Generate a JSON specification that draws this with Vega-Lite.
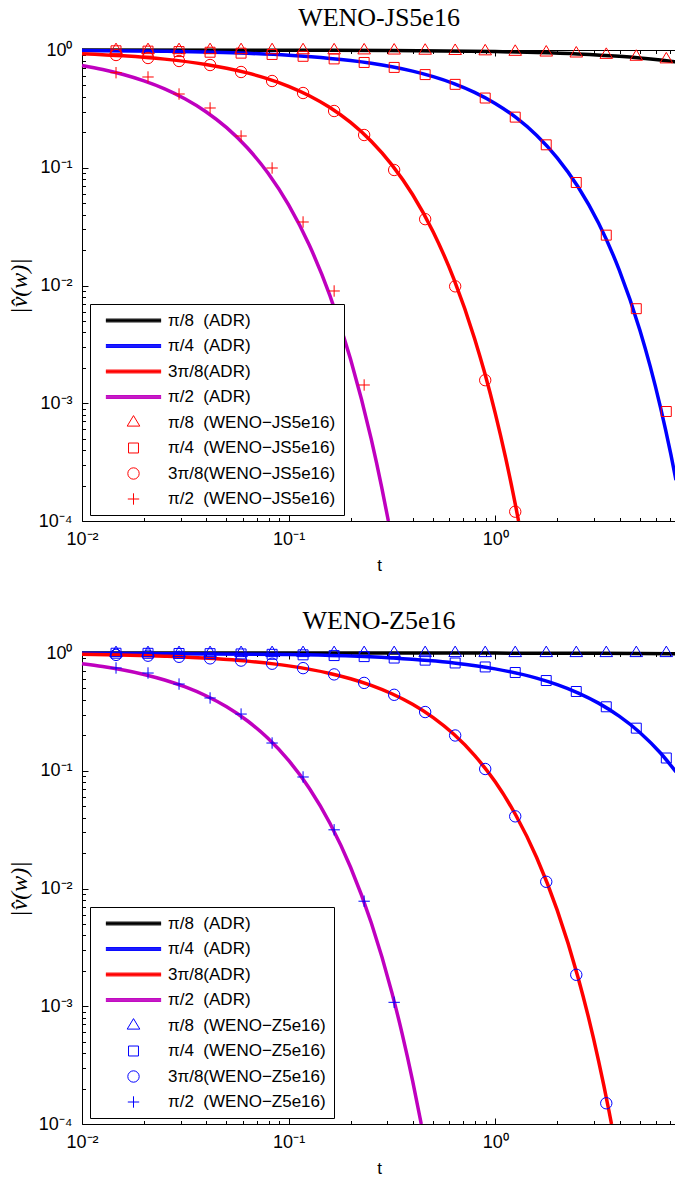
{
"$schema":"https://vega.github.io/schema/vega-lite/v6.json",
"padding":{"left":7,"top":5,"right":0,"bottom":0},
"spacing":35,
"config":{
 "view":{"stroke":null},
 "axis":{"grid":false,"domainColor":"#000","domainWidth":1,"tickColor":"#000","tickWidth":1,"labelColor":"#000","titleColor":"#000","labelFont":"Liberation Sans","labelFontSize":18,"titleFont":"Liberation Sans","titleFontSize":17,"titleFontWeight":"normal","labelFlush":false,"labelOverlap":false,"labelBound":false},
 "legend":{"orient":"none","labelFont":"Liberation Sans","labelFontSize":17,"labelColor":"#000","padding":8,"rowPadding":7.5,"strokeColor":"#000","strokeWidth":1,"fillColor":"#fff","cornerRadius":0,"symbolSize":144,"symbolOffset":27,"labelOffset":26,"labelLimit":0,"symbolStrokeWidth":1}
},
"datasets":{
 "linesJS":[
{"t":0.01,"v":0.9997,"s":"a1"},{"t":0.1,"v":0.9969,"s":"a1"},{"t":0.3162,"v":0.9902,"s":"a1"},{"t":1,"v":0.9695,"s":"a1"},{"t":1.585,"v":0.9521,"s":"a1"},{"t":2.512,"v":0.9251,"s":"a1"},{"t":3.981,"v":0.8839,"s":"a1"},{"t":5.012,"v":0.8561,"s":"a1"},{"t":6.31,"v":0.8223,"s":"a1"},{"t":7.5,"v":0.7926,"s":"a1"},
{"t":0.01,"v":0.9897,"s":"a2"},{"t":0.02512,"v":0.9744,"s":"a2"},{"t":0.0631,"v":0.9369,"s":"a2"},{"t":0.1,"v":0.9018,"s":"a2"},{"t":0.1585,"v":0.8487,"s":"a2"},{"t":0.1995,"v":0.8134,"s":"a2"},{"t":0.2512,"v":0.7709,"s":"a2"},{"t":0.3162,"v":0.7205,"s":"a2"},{"t":0.3981,"v":0.6616,"s":"a2"},{"t":0.5012,"v":0.5941,"s":"a2"},{"t":0.631,"v":0.5187,"s":"a2"},{"t":0.7943,"v":0.437,"s":"a2"},{"t":1,"v":0.3518,"s":"a2"},{"t":1.2589,"v":0.2674,"s":"a2"},{"t":1.5849,"v":0.1888,"s":"a2"},{"t":1.9953,"v":0.1215,"s":"a2"},{"t":2.5119,"v":0.06931,"s":"a2"},{"t":3.1623,"v":0.03389,"s":"a2"},{"t":3.9811,"v":0.01358,"s":"a2"},{"t":5.0119,"v":0.004196,"s":"a2"},{"t":5.6234,"v":0.002066,"s":"a2"},{"t":6.3096,"v":0.0009233,"s":"a2"},{"t":7.0795,"v":0.0003691,"s":"a2"},{"t":7.5,"v":0.0002224,"s":"a2"},
{"t":0.01,"v":0.9315,"s":"a3"},{"t":0.01585,"v":0.8936,"s":"a3"},{"t":0.02512,"v":0.8367,"s":"a3"},{"t":0.03981,"v":0.7538,"s":"a3"},{"t":0.05012,"v":0.7006,"s":"a3"},{"t":0.0631,"v":0.6389,"s":"a3"},{"t":0.07943,"v":0.569,"s":"a3"},{"t":0.1,"v":0.4916,"s":"a3"},{"t":0.1259,"v":0.4091,"s":"a3"},{"t":0.1585,"v":0.3246,"s":"a3"},{"t":0.1995,"v":0.2425,"s":"a3"},{"t":0.2512,"v":0.1681,"s":"a3"},{"t":0.3162,"v":0.1059,"s":"a3"},{"t":0.3981,"v":0.05922,"s":"a3"},{"t":0.5012,"v":0.02848,"s":"a3"},{"t":0.631,"v":0.01134,"s":"a3"},{"t":0.7943,"v":0.003554,"s":"a3"},{"t":0.8913,"v":0.001786,"s":"a3"},{"t":1,"v":0.0008251,"s":"a3"},{"t":1.122,"v":0.000347,"s":"a3"},{"t":1.2589,"v":0.0001313,"s":"a3"},{"t":1.2972,"v":0.0001,"s":"a3"},
{"t":0.01,"v":0.7386,"s":"a4"},{"t":0.01259,"v":0.6829,"s":"a4"},{"t":0.01585,"v":0.6187,"s":"a4"},{"t":0.01995,"v":0.5463,"s":"a4"},{"t":0.02512,"v":0.4672,"s":"a4"},{"t":0.03162,"v":0.3835,"s":"a4"},{"t":0.03981,"v":0.2993,"s":"a4"},{"t":0.05012,"v":0.219,"s":"a4"},{"t":0.0631,"v":0.1478,"s":"a4"},{"t":0.07943,"v":0.0901,"s":"a4"},{"t":0.1,"v":0.04832,"s":"a4"},{"t":0.1259,"v":0.02205,"s":"a4"},{"t":0.1585,"v":0.008211,"s":"a4"},{"t":0.1995,"v":0.002368,"s":"a4"},{"t":0.2512,"v":0.000495,"s":"a4"},{"t":0.2818,"v":0.0001958,"s":"a4"},{"t":0.304,"v":0.0001,"s":"a4"}
 ],
 "ptsJS":[
{"t":0.01461,"v":0.9996,"s":"m1"},{"t":0.02087,"v":0.9994,"s":"m1"},{"t":0.02949,"v":0.9992,"s":"m1"},{"t":0.04168,"v":0.9989,"s":"m1"},{"t":0.05888,"v":0.9984,"s":"m1"},{"t":0.0832,"v":0.9978,"s":"m1"},{"t":0.1175,"v":0.9968,"s":"m1"},{"t":0.1661,"v":0.9955,"s":"m1"},{"t":0.2321,"v":0.9938,"s":"m1"},{"t":0.3243,"v":0.9913,"s":"m1"},{"t":0.4581,"v":0.9877,"s":"m1"},{"t":0.64,"v":0.9829,"s":"m1"},{"t":0.8946,"v":0.9761,"s":"m1"},{"t":1.25,"v":0.9668,"s":"m1"},{"t":1.766,"v":0.9534,"s":"m1"},{"t":2.468,"v":0.9355,"s":"m1"},{"t":3.448,"v":0.9111,"s":"m1"},{"t":4.818,"v":0.878,"s":"m1"},{"t":6.732,"v":0.8338,"s":"m1"},
{"t":0.01461,"v":0.9848,"s":"m2"},{"t":0.02087,"v":0.9783,"s":"m2"},{"t":0.02949,"v":0.9695,"s":"m2"},{"t":0.04168,"v":0.9572,"s":"m2"},{"t":0.05888,"v":0.9401,"s":"m2"},{"t":0.0832,"v":0.9164,"s":"m2"},{"t":0.1175,"v":0.8839,"s":"m2"},{"t":0.1661,"v":0.84,"s":"m2"},{"t":0.2321,"v":0.7837,"s":"m2"},{"t":0.3243,"v":0.7114,"s":"m2"},{"t":0.4581,"v":0.6182,"s":"m2"},{"t":0.64,"v":0.5107,"s":"m2"},{"t":0.8946,"v":0.3909,"s":"m2"},{"t":1.25,"v":0.2691,"s":"m2"},{"t":1.766,"v":0.1566,"s":"m2"},{"t":2.468,"v":0.07494,"s":"m2"},{"t":3.448,"v":0.02677,"s":"m2"},{"t":4.818,"v":0.006355,"s":"m2"},{"t":6.732,"v":0.000851,"s":"m2"},
{"t":0.01461,"v":0.9069,"s":"m3"},{"t":0.02087,"v":0.8552,"s":"m3"},{"t":0.02949,"v":0.8065,"s":"m3"},{"t":0.04168,"v":0.7455,"s":"m3"},{"t":0.05888,"v":0.6504,"s":"m3"},{"t":0.0832,"v":0.5454,"s":"m3"},{"t":0.1175,"v":0.4313,"s":"m3"},{"t":0.1661,"v":0.3033,"s":"m3"},{"t":0.2321,"v":0.1897,"s":"m3"},{"t":0.3243,"v":0.09569,"s":"m3"},{"t":0.4581,"v":0.0366,"s":"m3"},{"t":0.64,"v":0.00984,"s":"m3"},{"t":0.8946,"v":0.00157,"s":"m3"},{"t":1.25,"v":0.00012,"s":"m3"},
{"t":0.01461,"v":0.6415,"s":"m4"},{"t":0.02087,"v":0.5898,"s":"m4"},{"t":0.02949,"v":0.4229,"s":"m4"},{"t":0.04168,"v":0.3217,"s":"m4"},{"t":0.05888,"v":0.186,"s":"m4"},{"t":0.0832,"v":0.09951,"s":"m4"},{"t":0.1175,"v":0.03462,"s":"m4"},{"t":0.1661,"v":0.008981,"s":"m4"},{"t":0.2321,"v":0.001429,"s":"m4"}
 ],
 "linesZ":[
{"t":0.01,"v":0.99998,"s":"a1"},{"t":0.1,"v":0.9998,"s":"a1"},{"t":1,"v":0.998,"s":"a1"},{"t":3.162,"v":0.9937,"s":"a1"},{"t":7.5,"v":0.9851,"s":"a1"},
{"t":0.01,"v":0.9969,"s":"a2"},{"t":0.1,"v":0.9695,"s":"a2"},{"t":0.3162,"v":0.9066,"s":"a2"},{"t":0.631,"v":0.8223,"s":"a2"},{"t":1,"v":0.7334,"s":"a2"},{"t":1.585,"v":0.6118,"s":"a2"},{"t":1.995,"v":0.5387,"s":"a2"},{"t":2.512,"v":0.459,"s":"a2"},{"t":3.162,"v":0.3752,"s":"a2"},{"t":3.981,"v":0.2911,"s":"a2"},{"t":5.012,"v":0.2115,"s":"a2"},{"t":6.31,"v":0.1414,"s":"a2"},{"t":7.5,"v":0.09778,"s":"a2"},
{"t":0.01,"v":0.9751,"s":"a3"},{"t":0.02512,"v":0.9387,"s":"a3"},{"t":0.0631,"v":0.853,"s":"a3"},{"t":0.1,"v":0.7772,"s":"a3"},{"t":0.1585,"v":0.6707,"s":"a3"},{"t":0.1995,"v":0.6048,"s":"a3"},{"t":0.2512,"v":0.531,"s":"a3"},{"t":0.3162,"v":0.4507,"s":"a3"},{"t":0.3981,"v":0.3667,"s":"a3"},{"t":0.5012,"v":0.2828,"s":"a3"},{"t":0.631,"v":0.2039,"s":"a3"},{"t":0.7943,"v":0.1351,"s":"a3"},{"t":1,"v":0.08046,"s":"a3"},{"t":1.2589,"v":0.0419,"s":"a3"},{"t":1.5849,"v":0.01843,"s":"a3"},{"t":1.9953,"v":0.006551,"s":"a3"},{"t":2.5119,"v":0.001782,"s":"a3"},{"t":2.8184,"v":0.0008232,"s":"a3"},{"t":3.1623,"v":0.000346,"s":"a3"},{"t":3.5481,"v":0.0001309,"s":"a3"},{"t":3.6549,"v":0.0001,"s":"a3"},
{"t":0.01,"v":0.8106,"s":"a4"},{"t":0.01259,"v":0.7677,"s":"a4"},{"t":0.01585,"v":0.7169,"s":"a4"},{"t":0.01995,"v":0.6577,"s":"a4"},{"t":0.02512,"v":0.5901,"s":"a4"},{"t":0.03162,"v":0.5148,"s":"a4"},{"t":0.03981,"v":0.4334,"s":"a4"},{"t":0.05012,"v":0.3491,"s":"a4"},{"t":0.0631,"v":0.2658,"s":"a4"},{"t":0.07943,"v":0.1886,"s":"a4"},{"t":0.1,"v":0.1225,"s":"a4"},{"t":0.1259,"v":0.07109,"s":"a4"},{"t":0.1585,"v":0.03586,"s":"a4"},{"t":0.1995,"v":0.01515,"s":"a4"},{"t":0.2512,"v":0.005118,"s":"a4"},{"t":0.3162,"v":0.001306,"s":"a4"},{"t":0.3548,"v":0.0005808,"s":"a4"},{"t":0.3981,"v":0.000234,"s":"a4"},{"t":0.4386,"v":0.0001,"s":"a4"}
 ],
 "ptsZ":[
{"t":0.01461,"v":1,"s":"m1"},{"t":0.02087,"v":1,"s":"m1"},{"t":0.02949,"v":1,"s":"m1"},{"t":0.04168,"v":1,"s":"m1"},{"t":0.05888,"v":1,"s":"m1"},{"t":0.0832,"v":1,"s":"m1"},{"t":0.1175,"v":1,"s":"m1"},{"t":0.1661,"v":1,"s":"m1"},{"t":0.2321,"v":1,"s":"m1"},{"t":0.3243,"v":1,"s":"m1"},{"t":0.4581,"v":1,"s":"m1"},{"t":0.64,"v":1,"s":"m1"},{"t":0.8946,"v":1,"s":"m1"},{"t":1.25,"v":1,"s":"m1"},{"t":1.766,"v":1,"s":"m1"},{"t":2.468,"v":1,"s":"m1"},{"t":3.448,"v":1,"s":"m1"},{"t":4.818,"v":1,"s":"m1"},{"t":6.732,"v":1,"s":"m1"},
{"t":0.01461,"v":0.9956,"s":"m2"},{"t":0.02087,"v":0.9937,"s":"m2"},{"t":0.02949,"v":0.991,"s":"m2"},{"t":0.04168,"v":0.9874,"s":"m2"},{"t":0.05888,"v":0.9822,"s":"m2"},{"t":0.0832,"v":0.9749,"s":"m2"},{"t":0.1175,"v":0.9648,"s":"m2"},{"t":0.1661,"v":0.9506,"s":"m2"},{"t":0.2321,"v":0.9317,"s":"m2"},{"t":0.3243,"v":0.9058,"s":"m2"},{"t":0.4581,"v":0.8696,"s":"m2"},{"t":0.64,"v":0.8227,"s":"m2"},{"t":0.8946,"v":0.7612,"s":"m2"},{"t":1.25,"v":0.683,"s":"m2"},{"t":1.766,"v":0.5836,"s":"m2"},{"t":2.468,"v":0.4711,"s":"m2"},{"t":3.448,"v":0.3493,"s":"m2"},{"t":4.818,"v":0.23,"s":"m2"},{"t":6.732,"v":0.1283,"s":"m2"},
{"t":0.01461,"v":0.9639,"s":"m3"},{"t":0.02087,"v":0.9488,"s":"m3"},{"t":0.02949,"v":0.9284,"s":"m3"},{"t":0.04168,"v":0.9003,"s":"m3"},{"t":0.05888,"v":0.8621,"s":"m3"},{"t":0.0832,"v":0.8109,"s":"m3"},{"t":0.1175,"v":0.7437,"s":"m3"},{"t":0.1661,"v":0.658,"s":"m3"},{"t":0.2321,"v":0.5572,"s":"m3"},{"t":0.3243,"v":0.4416,"s":"m3"},{"t":0.4581,"v":0.3152,"s":"m3"},{"t":0.64,"v":0.1993,"s":"m3"},{"t":0.8946,"v":0.1035,"s":"m3"},{"t":1.25,"v":0.041,"s":"m3"},{"t":1.766,"v":0.0114,"s":"m3"},{"t":2.468,"v":0.00185,"s":"m3"},{"t":3.448,"v":0.00015,"s":"m3"},
{"t":0.01461,"v":0.746,"s":"m4"},{"t":0.02087,"v":0.676,"s":"m4"},{"t":0.02949,"v":0.545,"s":"m4"},{"t":0.04168,"v":0.415,"s":"m4"},{"t":0.05888,"v":0.303,"s":"m4"},{"t":0.0832,"v":0.172,"s":"m4"},{"t":0.1175,"v":0.0885,"s":"m4"},{"t":0.1661,"v":0.0315,"s":"m4"},{"t":0.2321,"v":0.0078,"s":"m4"},{"t":0.3243,"v":0.00108,"s":"m4"}
 ]
},
"resolve":{"scale":{"x":"independent","y":"independent","color":"independent","shape":"independent"},"legend":{"color":"independent","shape":"independent"}},
"vconcat":[
{
 "width":594,"height":471,
 "title":{"text":"WENO-JS5e16","font":"Liberation Serif","fontSize":26,"fontWeight":"normal","color":"#000","anchor":"middle","frame":"group","offset":10},
 "resolve":{"axis":{"x":"independent","y":"independent"}},
 "layer":[
  {"data":{"name":"linesJS"},
   "mark":{"type":"line","strokeWidth":3.5,"interpolate":"monotone"},
   "encoding":{
    "x":{"field":"t","type":"quantitative","scale":{"type":"log","domain":[0.01,7.5],"nice":false},
     "axis":{"orient":"bottom","values":[0.01,0.1,1],"ticks":false,"labelPadding":9,"labelExpr":"['10⁻²','10⁻¹','10⁰'][round(log(datum.value)/LN10)+2]","title":"t","titlePadding":9}},
    "y":{"field":"v","type":"quantitative","scale":{"type":"log","domain":[0.0001,1],"nice":false},
     "axis":{"orient":"left","values":[0.0001,0.001,0.01,0.1,1],"ticks":false,"labelPadding":10,"labelBaseline":"middle","labelExpr":"['10⁻⁴','10⁻³','10⁻²','10⁻¹','10⁰'][round(log(datum.value)/LN10)+4]","title":"|v\u0302(w)|","titleFont":"Liberation Serif","titleFontStyle":"italic","titleFontSize":24,"titlePadding":7}},
    "color":{"field":"s","type":"nominal","scale":{"domain":["a1","a2","a3","a4","m1","m2","m3","m4"],"range":["#000000","#0000ff","#ff0000","#bf00bf","#ff0000","#ff0000","#ff0000","#ff0000"]},
     "legend":{"title":null,"legendX":8,"legendY":254,"labelExpr":"['π/8\u00a0\u00a0(ADR)','π/4\u00a0\u00a0(ADR)','3π/8(ADR)','π/2\u00a0\u00a0(ADR)','π/8\u00a0\u00a0(WENO−JS5e16)','π/4\u00a0\u00a0(WENO−JS5e16)','3π/8(WENO−JS5e16)','π/2\u00a0\u00a0(WENO−JS5e16)'][indexof(['a1','a2','a3','a4','m1','m2','m3','m4'],datum.value)]"}}
   }},
  {"data":{"name":"ptsJS"},
   "mark":{"type":"point","filled":false,"strokeWidth":1,"size":144,"opacity":1},
   "encoding":{
    "x":{"field":"t","type":"quantitative","scale":{"type":"log","domain":[0.01,7.5],"nice":false},
     "axis":{"orient":"bottom","values":[0.02,0.03,0.04,0.05,0.06,0.07,0.08,0.09,0.2,0.3,0.4,0.5,0.6,0.7,0.8,0.9,2,3,4,5,6,7],"labels":false,"domain":false,"tickSize":-3.5,"title":null}},
    "y":{"field":"v","type":"quantitative","scale":{"type":"log","domain":[0.0001,1],"nice":false},
     "axis":{"orient":"left","values":[0.0002,0.0003,0.0004,0.0005,0.0006,0.0007,0.0008,0.0009,0.002,0.003,0.004,0.005,0.006,0.007,0.008,0.009,0.02,0.03,0.04,0.05,0.06,0.07,0.08,0.09,0.2,0.3,0.4,0.5,0.6,0.7,0.8,0.9],"labels":false,"domain":false,"tickSize":-3.5,"title":null}},
    "color":{"field":"s","type":"nominal","scale":{"domain":["a1","a2","a3","a4","m1","m2","m3","m4"],"range":["#000000","#0000ff","#ff0000","#bf00bf","#ff0000","#ff0000","#ff0000","#ff0000"]},
     "legend":{"title":null,"legendX":8,"legendY":254,"labelExpr":"['π/8\u00a0\u00a0(ADR)','π/4\u00a0\u00a0(ADR)','3π/8(ADR)','π/2\u00a0\u00a0(ADR)','π/8\u00a0\u00a0(WENO−JS5e16)','π/4\u00a0\u00a0(WENO−JS5e16)','3π/8(WENO−JS5e16)','π/2\u00a0\u00a0(WENO−JS5e16)'][indexof(['a1','a2','a3','a4','m1','m2','m3','m4'],datum.value)]"}},
    "shape":{"field":"s","type":"nominal","scale":{"domain":["a1","a2","a3","a4","m1","m2","m3","m4"],"range":["M-4.6,-0.24H4.6M-4.6,-0.12H4.6M-4.6,0H4.6M-4.6,0.12H4.6M-4.6,0.24H4.6","M-4.6,-0.24H4.6M-4.6,-0.12H4.6M-4.6,0H4.6M-4.6,0.12H4.6M-4.6,0.24H4.6","M-4.6,-0.24H4.6M-4.6,-0.12H4.6M-4.6,0H4.6M-4.6,0.12H4.6M-4.6,0.24H4.6","M-4.6,-0.24H4.6M-4.6,-0.12H4.6M-4.6,0H4.6M-4.6,0.12H4.6M-4.6,0.24H4.6","M0,-1.15L1.05,0.6L-1.05,0.6Z","M-0.83,-0.83H0.83V0.83H-0.83Z","M0.95,0A0.95,0.95,0,1,1,-0.95,0A0.95,0.95,0,1,1,0.95,0Z","M-0.95,0H0.95M0,-0.95V0.95"]},
     "legend":{"title":null,"legendX":8,"legendY":254,"labelExpr":"['π/8\u00a0\u00a0(ADR)','π/4\u00a0\u00a0(ADR)','3π/8(ADR)','π/2\u00a0\u00a0(ADR)','π/8\u00a0\u00a0(WENO−JS5e16)','π/4\u00a0\u00a0(WENO−JS5e16)','3π/8(WENO−JS5e16)','π/2\u00a0\u00a0(WENO−JS5e16)'][indexof(['a1','a2','a3','a4','m1','m2','m3','m4'],datum.value)]"}}
   }},
  {"data":{"name":"linesJS"},
   "mark":{"type":"point","opacity":0},
   "encoding":{
    "x":{"field":"t","type":"quantitative","scale":{"type":"log","domain":[0.01,7.5],"nice":false},
     "axis":{"orient":"bottom","values":[0.01,0.1,1],"labels":false,"domain":false,"tickSize":-6,"title":null}},
    "y":{"field":"v","type":"quantitative","scale":{"type":"log","domain":[0.0001,1],"nice":false},
     "axis":{"orient":"left","values":[0.0001,0.001,0.01,0.1,1],"labels":false,"domain":false,"tickSize":-6,"title":null}}
   }},
  {"data":{"name":"linesJS"},
   "mark":{"type":"point","opacity":0},
   "encoding":{
    "x":{"field":"t","type":"quantitative","scale":{"type":"log","domain":[0.01,7.5],"nice":false},
     "axis":{"orient":"top","values":[0.01,0.1,1],"labels":false,"domain":true,"tickSize":-6,"title":null}},
    "y":{"field":"v","type":"quantitative","scale":{"type":"log","domain":[0.0001,1],"nice":false},"axis":null}
   }},
  {"data":{"name":"linesJS"},
   "mark":{"type":"point","opacity":0},
   "encoding":{
    "x":{"field":"t","type":"quantitative","scale":{"type":"log","domain":[0.01,7.5],"nice":false},
     "axis":{"orient":"top","values":[0.02,0.03,0.04,0.05,0.06,0.07,0.08,0.09,0.2,0.3,0.4,0.5,0.6,0.7,0.8,0.9,2,3,4,5,6,7],"labels":false,"domain":false,"tickSize":-3.5,"title":null}},
    "y":{"field":"v","type":"quantitative","scale":{"type":"log","domain":[0.0001,1],"nice":false},"axis":null}
   }}
 ]
},
{
 "width":594,"height":471,
 "title":{"text":"WENO-Z5e16","font":"Liberation Serif","fontSize":26,"fontWeight":"normal","color":"#000","anchor":"middle","frame":"group","offset":10},
 "resolve":{"axis":{"x":"independent","y":"independent"}},
 "layer":[
  {"data":{"name":"linesZ"},
   "mark":{"type":"line","strokeWidth":3.5,"interpolate":"monotone"},
   "encoding":{
    "x":{"field":"t","type":"quantitative","scale":{"type":"log","domain":[0.01,7.5],"nice":false},
     "axis":{"orient":"bottom","values":[0.01,0.1,1],"ticks":false,"labelPadding":9,"labelExpr":"['10⁻²','10⁻¹','10⁰'][round(log(datum.value)/LN10)+2]","title":"t","titlePadding":9}},
    "y":{"field":"v","type":"quantitative","scale":{"type":"log","domain":[0.0001,1],"nice":false},
     "axis":{"orient":"left","values":[0.0001,0.001,0.01,0.1,1],"ticks":false,"labelPadding":10,"labelBaseline":"middle","labelExpr":"['10⁻⁴','10⁻³','10⁻²','10⁻¹','10⁰'][round(log(datum.value)/LN10)+4]","title":"|v\u0302(w)|","titleFont":"Liberation Serif","titleFontStyle":"italic","titleFontSize":24,"titlePadding":7}},
    "color":{"field":"s","type":"nominal","scale":{"domain":["a1","a2","a3","a4","m1","m2","m3","m4"],"range":["#000000","#0000ff","#ff0000","#bf00bf","#0000ff","#0000ff","#0000ff","#0000ff"]},
     "legend":{"title":null,"legendX":8,"legendY":254,"labelExpr":"['π/8\u00a0\u00a0(ADR)','π/4\u00a0\u00a0(ADR)','3π/8(ADR)','π/2\u00a0\u00a0(ADR)','π/8\u00a0\u00a0(WENO−Z5e16)','π/4\u00a0\u00a0(WENO−Z5e16)','3π/8(WENO−Z5e16)','π/2\u00a0\u00a0(WENO−Z5e16)'][indexof(['a1','a2','a3','a4','m1','m2','m3','m4'],datum.value)]"}}
   }},
  {"data":{"name":"ptsZ"},
   "mark":{"type":"point","filled":false,"strokeWidth":1,"size":144,"opacity":1},
   "encoding":{
    "x":{"field":"t","type":"quantitative","scale":{"type":"log","domain":[0.01,7.5],"nice":false},
     "axis":{"orient":"bottom","values":[0.02,0.03,0.04,0.05,0.06,0.07,0.08,0.09,0.2,0.3,0.4,0.5,0.6,0.7,0.8,0.9,2,3,4,5,6,7],"labels":false,"domain":false,"tickSize":-3.5,"title":null}},
    "y":{"field":"v","type":"quantitative","scale":{"type":"log","domain":[0.0001,1],"nice":false},
     "axis":{"orient":"left","values":[0.0002,0.0003,0.0004,0.0005,0.0006,0.0007,0.0008,0.0009,0.002,0.003,0.004,0.005,0.006,0.007,0.008,0.009,0.02,0.03,0.04,0.05,0.06,0.07,0.08,0.09,0.2,0.3,0.4,0.5,0.6,0.7,0.8,0.9],"labels":false,"domain":false,"tickSize":-3.5,"title":null}},
    "color":{"field":"s","type":"nominal","scale":{"domain":["a1","a2","a3","a4","m1","m2","m3","m4"],"range":["#000000","#0000ff","#ff0000","#bf00bf","#0000ff","#0000ff","#0000ff","#0000ff"]},
     "legend":{"title":null,"legendX":8,"legendY":254,"labelExpr":"['π/8\u00a0\u00a0(ADR)','π/4\u00a0\u00a0(ADR)','3π/8(ADR)','π/2\u00a0\u00a0(ADR)','π/8\u00a0\u00a0(WENO−Z5e16)','π/4\u00a0\u00a0(WENO−Z5e16)','3π/8(WENO−Z5e16)','π/2\u00a0\u00a0(WENO−Z5e16)'][indexof(['a1','a2','a3','a4','m1','m2','m3','m4'],datum.value)]"}},
    "shape":{"field":"s","type":"nominal","scale":{"domain":["a1","a2","a3","a4","m1","m2","m3","m4"],"range":["M-4.6,-0.24H4.6M-4.6,-0.12H4.6M-4.6,0H4.6M-4.6,0.12H4.6M-4.6,0.24H4.6","M-4.6,-0.24H4.6M-4.6,-0.12H4.6M-4.6,0H4.6M-4.6,0.12H4.6M-4.6,0.24H4.6","M-4.6,-0.24H4.6M-4.6,-0.12H4.6M-4.6,0H4.6M-4.6,0.12H4.6M-4.6,0.24H4.6","M-4.6,-0.24H4.6M-4.6,-0.12H4.6M-4.6,0H4.6M-4.6,0.12H4.6M-4.6,0.24H4.6","M0,-1.15L1.05,0.6L-1.05,0.6Z","M-0.83,-0.83H0.83V0.83H-0.83Z","M0.95,0A0.95,0.95,0,1,1,-0.95,0A0.95,0.95,0,1,1,0.95,0Z","M-0.95,0H0.95M0,-0.95V0.95"]},
     "legend":{"title":null,"legendX":8,"legendY":254,"labelExpr":"['π/8\u00a0\u00a0(ADR)','π/4\u00a0\u00a0(ADR)','3π/8(ADR)','π/2\u00a0\u00a0(ADR)','π/8\u00a0\u00a0(WENO−Z5e16)','π/4\u00a0\u00a0(WENO−Z5e16)','3π/8(WENO−Z5e16)','π/2\u00a0\u00a0(WENO−Z5e16)'][indexof(['a1','a2','a3','a4','m1','m2','m3','m4'],datum.value)]"}}
   }},
  {"data":{"name":"linesZ"},
   "mark":{"type":"point","opacity":0},
   "encoding":{
    "x":{"field":"t","type":"quantitative","scale":{"type":"log","domain":[0.01,7.5],"nice":false},
     "axis":{"orient":"bottom","values":[0.01,0.1,1],"labels":false,"domain":false,"tickSize":-6,"title":null}},
    "y":{"field":"v","type":"quantitative","scale":{"type":"log","domain":[0.0001,1],"nice":false},
     "axis":{"orient":"left","values":[0.0001,0.001,0.01,0.1,1],"labels":false,"domain":false,"tickSize":-6,"title":null}}
   }},
  {"data":{"name":"linesZ"},
   "mark":{"type":"point","opacity":0},
   "encoding":{
    "x":{"field":"t","type":"quantitative","scale":{"type":"log","domain":[0.01,7.5],"nice":false},
     "axis":{"orient":"top","values":[0.01,0.1,1],"labels":false,"domain":true,"tickSize":-6,"title":null}},
    "y":{"field":"v","type":"quantitative","scale":{"type":"log","domain":[0.0001,1],"nice":false},"axis":null}
   }},
  {"data":{"name":"linesZ"},
   "mark":{"type":"point","opacity":0},
   "encoding":{
    "x":{"field":"t","type":"quantitative","scale":{"type":"log","domain":[0.01,7.5],"nice":false},
     "axis":{"orient":"top","values":[0.02,0.03,0.04,0.05,0.06,0.07,0.08,0.09,0.2,0.3,0.4,0.5,0.6,0.7,0.8,0.9,2,3,4,5,6,7],"labels":false,"domain":false,"tickSize":-3.5,"title":null}},
    "y":{"field":"v","type":"quantitative","scale":{"type":"log","domain":[0.0001,1],"nice":false},"axis":null}
   }}
 ]
}
]
}
